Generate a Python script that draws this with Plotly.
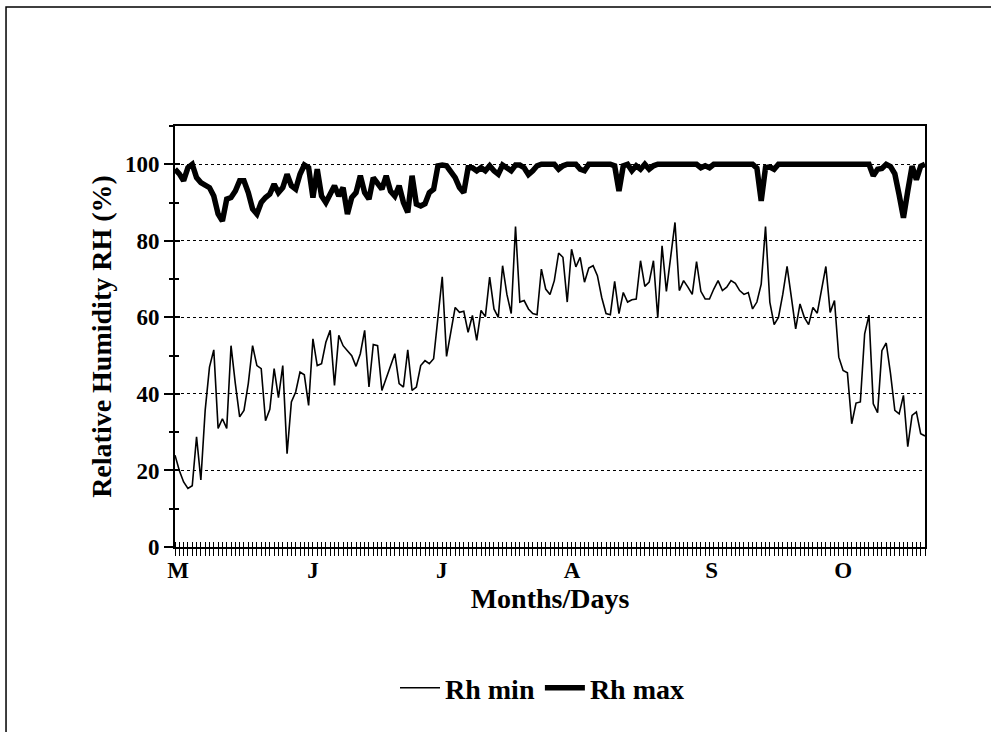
import plotly.graph_objects as go

# ---- data (daily relative humidity, May -> October) ----
rh_min = [24, 20, 17, 15.3, 16, 28.8, 17.5, 35.7, 47, 51.5,
          31, 33.5, 31, 52.6, 42.7, 34, 35.7, 42.7, 52.6, 47.4,
          46.6, 33, 36, 46.6, 39, 47.4, 24.4, 37.9, 40.5, 45.7,
          45, 37, 54.4, 47.4, 47.9, 53.5, 56.6, 42.2, 55.3, 52.6,
          51.3, 50, 47.2, 50.5,
          56.6, 41.8, 52.9, 52.6, 40.9, 44, 47, 50.5, 42.7, 41.8,
          51.5, 40.9, 41.8, 47.4, 48.7, 47.9, 49.2, 60, 70.6, 49.8,
          56.6, 62.6, 61.3, 61.6, 56.1, 60.5, 54, 61.8, 60.2, 70.5,
          62.2, 60, 73.5, 66, 61, 83.7, 64, 64.4, 62.2, 61,
          60.7, 72.6, 67.4, 66,
          69.6, 76.8, 75.7, 64, 77.8, 73.2, 75.7, 69.2, 72.9, 73.5,
          70.9, 65.2, 61, 60.7, 69.4, 61, 66.5, 64, 64.6, 64.8,
          74.8, 68.1, 69.2, 74.8, 59.9, 78.7, 66.8, 75.2, 84.8, 67,
          69.6, 67.9, 66, 74.6, 66.8, 64.8, 64.8, 67.4, 69.6, 67,
          67.9, 69.6, 68.9, 67,
          66, 66.5, 62.2, 64, 68.7, 83.7, 64, 58.1, 60, 66,
          73.3, 65.2, 57, 63.5, 60, 58.1, 62.6, 61.1, 67, 73.3,
          61.3, 64.4, 49.6, 46.1, 45.5, 32.2, 37.6, 37.9, 55.7, 60.6,
          37.4, 35.1, 51.3, 53.3, 45.3, 35.7, 34.8, 39.6, 26.2, 34.4,
          35.3, 29.6, 29]

rh_max = [98.7, 97.5, 95.7, 99.1, 100, 96.5, 95.2, 94.5, 93.9, 91.7,
          87, 85.2, 90.9, 91.3, 93, 95.7, 95.7, 92.6, 88.3, 87,
          90, 91.3, 92.2, 94.8, 92.6, 93.9, 97.4, 94.4, 93.5, 97.4,
          99.8, 99.1, 91.3, 98.7, 91.7, 90, 92.2, 94.4, 91.7, 93.9,
          87, 91.3, 92.6, 97,
          92.6, 90.9, 96.5, 94.8, 93.5, 97, 93, 91.7, 94.4, 90,
          87.4, 97, 89.6, 89.1, 89.7, 92.6, 93.5, 99.6, 99.8, 99.6,
          98.3, 96.5, 93.9, 92.6, 99.1, 99.1, 98.3, 99.1, 98.3, 99.6,
          98.3, 97.4, 99.8, 99.1, 98.3, 99.8, 99.8, 99.1, 97.3, 98.3,
          99.6, 100, 100, 100,
          100, 98.7, 99.6, 100, 100, 100, 98.7, 98.3, 100, 100,
          100, 100, 100, 100, 99.6, 93, 99.6, 100, 98.3, 99.6,
          98.7, 100, 98.7, 99.6, 100, 100, 100, 100, 100, 100,
          100, 100, 100, 100, 99.1, 99.6, 99.1, 100, 100, 100,
          100, 100, 100, 100,
          100, 100, 100, 99, 90.4, 99.1, 99.3, 98.7, 100, 100,
          100, 100, 100, 100, 100, 100, 100, 100, 100, 100,
          100, 100, 100, 100, 100, 100, 100, 100, 100, 100,
          97, 98.7, 98.9, 100, 99.4, 97.5, 92, 86, 93, 99.5,
          96, 99.5, 100]

days = list(range(len(rh_min)))

month_labels = ["M", "J", "J", "A", "S", "O"]
month_pos = [0.7, 32, 61.9, 92.1, 124.5, 155]

y_ticks = [0, 20, 40, 60, 80, 100]

FONT = "Liberation Serif"

fig = go.Figure()
fig.add_trace(go.Scatter(x=days, y=rh_min, mode="lines", name="Rh min",
                         line=dict(color="black", width=1.6)))
fig.add_trace(go.Scatter(x=days, y=rh_max, mode="lines", name="Rh max",
                         line=dict(color="black", width=5.5)))
# helper trace on overlay axes (for the inner half of the crossing ticks)
fig.add_trace(go.Scatter(x=[days[0]], y=[0], mode="markers", xaxis="x2", yaxis="y2",
                         marker=dict(opacity=0), showlegend=False, hoverinfo="skip"))

xr = [days[0], days[-1]]
yr = [0, 110]

fig.update_layout(
    width=991, height=732,
    margin=dict(l=175, r=66, t=126, b=185),
    paper_bgcolor="white", plot_bgcolor="white",
    font=dict(family=FONT, color="black", size=23, weight="bold"),
    showlegend=True,
    legend=dict(orientation="h", x=0.49, xanchor="center", y=-0.335, yanchor="middle",
                font=dict(family=FONT, size=28, weight="bold"), bgcolor="rgba(0,0,0,0)",
                itemwidth=40),
    xaxis=dict(
        range=xr, tickmode="array", tickvals=month_pos, ticktext=month_labels,
        ticks="outside", ticklen=1, tickcolor="rgba(0,0,0,0)",
        tickfont=dict(family=FONT, size=23, weight="bold"),
        showgrid=False, zeroline=False,
        showline=True, linecolor="black", linewidth=2, mirror=True,
        minor=dict(tickmode="linear", tick0=0, dtick=1, ticks="outside", ticklen=7,
                   tickcolor="black", tickwidth=1, showgrid=False),
        title=dict(text="Months/Days", font=dict(family=FONT, size=28, weight="bold"), standoff=4),
    ),
    yaxis=dict(
        range=yr, tickmode="array", tickvals=y_ticks,
        ticks="outside", ticklen=9, tickcolor="black", tickwidth=1.5,
        tickfont=dict(family=FONT, size=23, weight="bold"),
        showgrid=True, gridcolor="black", griddash="dot", gridwidth=1,
        zeroline=False,
        showline=True, linecolor="black", linewidth=2, mirror=True,
        minor=dict(tickmode="linear", tick0=10, dtick=20, ticks="outside", ticklen=4,
                   tickcolor="black", tickwidth=1.5, showgrid=False),
        title=dict(text="Relative Humidity RH (%)", font=dict(family=FONT, size=28, weight="bold"),
                   standoff=5),
    ),
    xaxis2=dict(overlaying="x", matches="x", range=xr, showticklabels=False, showgrid=False,
                zeroline=False, showline=False, tickmode="array", tickvals=[], ticks="",
                minor=dict(tickmode="linear", tick0=0, dtick=1, ticks="inside", ticklen=5,
                           tickcolor="black", tickwidth=1, showgrid=False)),
    yaxis2=dict(overlaying="y", matches="y", range=yr, showticklabels=False, showgrid=False,
                zeroline=False, showline=False, tickmode="array", tickvals=y_ticks,
                ticks="inside", ticklen=5, tickcolor="black", tickwidth=1.5,
                minor=dict(tickmode="linear", tick0=10, dtick=20, ticks="inside", ticklen=4,
                           tickcolor="black", tickwidth=1.5, showgrid=False)),
    shapes=[dict(type="rect", xref="paper", yref="paper",
                 x0=-0.2253, x1=1.2, y0=-0.6, y1=1.2827,
                 line=dict(color="black", width=1.5), fillcolor="rgba(0,0,0,0)", layer="below")],
)

fig.write_html("out.html", config={"displayModeBar": False},
               post_script="document.body.style.margin='0px';document.body.style.overflow='hidden';")
